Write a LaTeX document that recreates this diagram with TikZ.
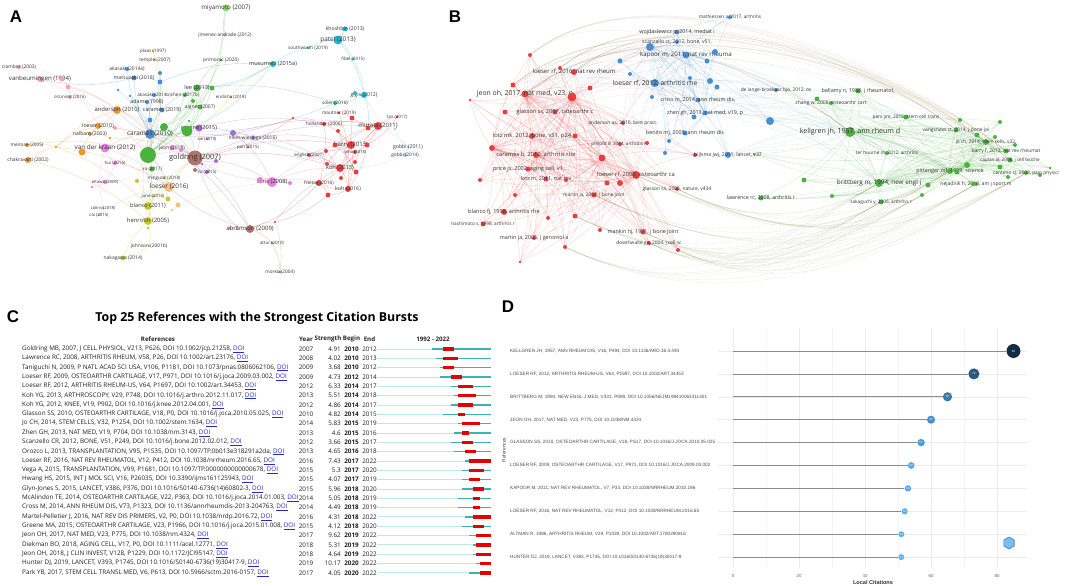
\documentclass[tikz,border=0pt]{standalone}
\usepackage{fontspec}
\setmainfont{Open Sans}
\newfontfamily\panelfont{Liberation Sans}
\newfontfamily\ggfont{Liberation Sans}
\usetikzlibrary{positioning}
\pgfdeclarelayer{bg}
\pgfdeclarelayer{paper}
\pgfsetlayers{paper,bg,main}

\definecolor{cRed}{RGB}{232,62,62}
\definecolor{cGreen}{RGB}{72,180,60}
\definecolor{cBlue}{RGB}{72,142,212}
\definecolor{cYel}{RGB}{200,200,45}
\definecolor{cPur}{RGB}{165,105,222}
\definecolor{cCyan}{RGB}{35,185,212}
\definecolor{cOra}{RGB}{240,148,45}
\definecolor{cBrn}{RGB}{175,115,105}
\definecolor{cPink}{RGB}{232,125,222}
\definecolor{cLPink}{RGB}{242,165,175}
\definecolor{cLBlue}{RGB}{170,202,242}
\definecolor{cLGreen}{RGB}{140,218,110}
\definecolor{cLOra}{RGB}{246,190,130}
\definecolor{cLPur}{RGB}{200,170,235}
\definecolor{cTeal}{RGB}{60,178,178}
\definecolor{cThin}{RGB}{190,232,232}
\definecolor{cBurst}{RGB}{232,0,0}
\definecolor{cLink}{RGB}{40,40,195}
\definecolor{dDark}{HTML}{132B43}
\definecolor{dLight}{HTML}{56B1F7}
\definecolor{cHex}{RGB}{120,190,240}
\definecolor{cHexD}{RGB}{60,130,200}

\newcommand\doilnk{\textcolor{cLink}{\underline{DOI}}}
\newcommand\vlfont[1]{\pgfmathsetmacro\vlsz{1.08*#1}\fontsize{\vlsz}{\vlsz}\selectfont}

\begin{document}
\begin{tikzpicture}[x=1bp, y=-1bp,
  vn/.style={circle, inner sep=0pt, minimum size=#1, draw=none},
  vl/.style={font=\vlfont{#1}, text=black!80, inner sep=0pt},
  ln/.style={draw=#1, draw opacity=.4, line width=.35pt},
  lnb/.style={draw=#1, draw opacity=.26, line width=.3pt},
  lnx/.style={draw=#1, draw opacity=.16, line width=.3pt},
  pnl/.style={font=\panelfont\bfseries\fontsize{17}{17}\selectfont, inner sep=0pt},
  rf/.style={font=\fontsize{6.35}{7}\selectfont, inner sep=0pt, text=black!88},
  hd/.style={font=\bfseries\fontsize{6.2}{7}\selectfont, inner sep=0pt, text=black!85},
  dl/.style={font=\ggfont\fontsize{4.7}{4.7}\selectfont, inner sep=0pt, text=black!70},
  tk/.style={font=\ggfont\fontsize{4.4}{4.4}\selectfont, inner sep=0pt, text=black!60},
  grd/.style={draw=black!8, line width=.5pt},
  stem/.style={draw=black!45, line width=.8pt},
]
\useasboundingbox (0,0) rectangle (1079,586);
\begin{pgfonlayer}{paper}
\fill[white] (0,0) rectangle (1079,586);
\end{pgfonlayer}

% ---------------- panel letters
\node[pnl] (pA) at (16,17) {A};
\node[pnl] (pB) at (455,17) {B};
\node[pnl] (pC) at (13,317) {C};
\node[pnl] (pD) at (508,307) {D};

% ---------------- A: co-citation network (first authors)
\node[vn=7, fill=cLGreen, label={[vl=5.8]center:{miyamoto (2007)}}] (aMiya) at (226,8) {};
\node[vn=3, fill=cLGreen, label={[vl=4.5]center:{jimenez-andrade (2012)}}] (aJime) at (225,35) {};
\node[vn=3, fill=cYel, label={[vl=4.3]center:{plaas (1997)}}] (aPlaas) at (153,51) {};
\node[vn=3, fill=cYel, label={[vl=4.5]center:{temple (2007)}}] (aTemp) at (155,60) {};
\node[vn=3, fill=cGreen, label={[vl=4.5]center:{primorac (2020)}}] (aPrim) at (221,60) {};
\node[vn=6, fill=cCyan, label={[vl=5.2]center:{musumeci (2015a)}}] (aMusu) at (273,64) {};
\node[vn=5, fill=cCyan, label={[vl=4.8]center:{khoshbin (2013)}}] (aKhos) at (345,29) {};
\node[vn=9, fill=cCyan, label={[vl=6]center:{patel (2013)}}] (aPatel) at (338,40) {};
\node[vn=3, fill=cCyan, label={[vl=4.3]center:{southworth (2019)}}] (aSouth) at (308,48) {};
\node[vn=3, fill=cCyan, label={[vl=4.2]center:{fibel (2015)}}] (aFibel) at (353,59) {};
\node[vn=4, fill=cLPink, label={[vl=4.5]center:{ciombor (2003)}}] (aCiom) at (19,67) {};
\node[vn=6, fill=cLPink, label={[vl=5.7]center:{vanbeumingen (1994)}}] (aVanb) at (40,79) {};
\node[vn=4, fill=cBlue, label={[vl=4.6]center:{akasaki (2014a)}}] (aAka1) at (127,69) {};
\node[vn=5, fill=cBlue, label={[vl=4.8]center:{matsuzaki (2018)}}] (aMats) at (134,78) {};
\node[vn=4, fill=cLPink, label={[vl=4.1]center:{o'connor (2016)}}] (aOcon) at (70,97) {};
\node[vn=7, fill=cGreen, label={[vl=5.2]center:{lee (2013)}}] (aLee) at (197,88) {};
\node[vn=4, fill=cBlue, label={[vl=4.3]center:{akasaki (2014b)}}] (aAka2) at (154,95) {};
\node[vn=4, fill=cGreen, label={[vl=4.4]center:{chen (2017b)}}] (aChen) at (185,95) {};
\node[vn=3, fill=cYel, label={[vl=4.1]center:{endisha (2018)}}] (aEndi) at (231,97) {};
\node[vn=4, fill=cBlue, label={[vl=4.9]center:{adams (1998)}}] (aAdams) at (147,102) {};
\node[vn=5, fill=cGreen, label={[vl=4.6]center:{aigner (2007)}}] (aAign) at (200,107) {};
\node[vn=8, fill=cOra, label={[vl=5.5]center:{anderson (2010)}}] (aAnd) at (117,110) {};
\node[vn=5, fill=cBlue, label={[vl=5]center:{caramés (2019)}}] (aCar19) at (162,110) {};
\node[vn=6, fill=cOra, label={[vl=4.9]center:{loeser (2010)}}] (aLoe10) at (98,126) {};
\node[vn=7, fill=cPur, label={[vl=5.3]center:{greene (2015)}}] (aGree) at (199,128) {};
\node[vn=10, fill=cBlue, label={[vl=6]center:{caramés (2010)}}] (aCar10) at (150,134) {};
\node[vn=4, fill=cOra, label={[vl=4.7]center:{nalbant (2003)}}] (aNalb) at (90,134) {};
\node[vn=4, fill=cOra, label={[vl=4.4]center:{melrose (2005)}}] (aMelr) at (27,145) {};
\node[vn=9, fill=cPink, label={[vl=5.9]center:{van der kraan (2012)}}] (aVdk) at (105,148) {};
\node[vn=5, fill=cPink, label={[vl=4.6]center:{jeon (2018)}}] (aJeon) at (172,148) {};
\node[vn=15, fill=cBrn, label={[vl=6.9]center:{goldring (2007)}}] (aGold) at (195,158) {};
\node[vn=6, fill=cOra, label={[vl=4.6]center:{chakravarti (2002)}}] (aChak) at (28,160) {};
\node[vn=4, fill=cPink, label={[vl=4.2]center:{hui (2016)}}] (aHui) at (115,163) {};
\node[vn=5, fill=cGreen, label={[vl=4.3]center:{xu (2017)}}] (aXu) at (152,169) {};
\node[vn=4, fill=cPur, label={[vl=4.1]center:{liu (2015)}}] (aLiu) at (207,172) {};
\node[vn=3, fill=cYel, label={[vl=4.2]center:{minguzzi (2018)}}] (aMing) at (164,178) {};
\node[vn=4, fill=cPink, label={[vl=4]center:{eltawil (2009)}}] (aElta) at (105,182) {};
\node[vn=10, fill=cPink, label={[vl=5.4]center:{saris (2008)}}] (aSaris) at (272,182) {};
\node[vn=10, fill=cLOra, label={[vl=6]center:{loeser (2016)}}] (aLoe16) at (169,187) {};
\node[vn=3, fill=cYel, label={[vl=4.1]center:{june (2016)}}] (aJune) at (153,196) {};
\node[vn=8, fill=cYel, label={[vl=5.3]center:{blanco (2011)}}] (aBlan) at (148,206) {};
\node[vn=3, fill=cLPur, label={[vl=3.9]center:{colins (2018)}}] (aColi) at (103,208) {};
\node[vn=3, fill=cLPur, label={[vl=4]center:{cai (2015)}}] (aCai) at (99,215) {};
\node[vn=8, fill=cYel, label={[vl=5.5]center:{henrotin (2005)}}] (aHenr) at (148,221) {};
\node[vn=8, fill=cBrn, label={[vl=5.6]center:{abramson (2009)}}] (aAbra) at (250,229) {};
\node[vn=3, fill=cYel, label={[vl=4.5]center:{johnson (2001b)}}] (aJohn) at (149,246) {};
\node[vn=3, fill=cBrn, label={[vl=4.1]center:{attur (2010)}}] (aAttur) at (272,243) {};
\node[vn=5, fill=cYel, label={[vl=4.6]center:{nakagawa (2014)}}] (aNaka) at (123,258) {};
\node[vn=3, fill=cBrn, label={[vl=4.4]center:{morko (2004)}}] (aMork) at (280,272) {};
\node[vn=4, fill=cRed, label={[vl=4.4]center:{hollander (2006)}}] (aHoll) at (324,124) {};
\node[vn=4, fill=cCyan, label={[vl=4.4]center:{soler (2016)}}] (aSoler) at (335,103) {};
\node[vn=6, fill=cCyan, label={[vl=4.8]center:{gigis (2012)}}] (aGigis) at (364,95) {};
\node[vn=3, fill=cRed, label={[vl=4.4]center:{mautner (2019)}}] (aMaut) at (339,113) {};
\node[vn=3, fill=cRed, label={[vl=4.1]center:{tan (2017)}}] (aTan) at (397,117) {};
\node[vn=8, fill=cRed, label={[vl=5.6]center:{murata (2011)}}] (aMura) at (378,126) {};
\node[vn=8, fill=cRed, label={[vl=5.6]center:{barry (2013)}}] (aBarry) at (351,145) {};
\node[vn=3, fill=cLBlue, label={[vl=4.8]center:{gobbi (2011)}}] (aGob11) at (408,147) {};
\node[vn=4, fill=cLBlue, label={[vl=4.4]center:{gobbi (2014)}}] (aGob14) at (405,155) {};
\node[vn=4, fill=cRed, label={[vl=3.9]center:{ijima (2018)}}] (aIjim) at (355,152) {};
\node[vn=4, fill=cRed, label={[vl=4.2]center:{english (2007)}}] (aEngl) at (309,155) {};
\node[vn=8, fill=cRed, label={[vl=5.3]center:{koh (2013)}}] (aKoh13) at (340,168) {};
\node[vn=6, fill=cRed, label={[vl=4.5]center:{freitag (2016)}}] (aFrei) at (319,183) {};
\node[vn=6, fill=cRed, label={[vl=4.9]center:{koh (2016)}}] (aKoh16) at (348,189) {};
\node[vn=4, fill=cPur, label={[vl=4.6]center:{klein-wieringa (2016)}}] (aKlein) at (253,138) {};
\node[vn=3, fill=cPur, label={[vl=4.1]center:{pan (2015)}}] (aPan) at (248,147) {};
\node[vn=3, fill=cPur, label={[vl=3.9]center:{xie (2019)}}] (aXie) at (207,139) {};
% unlabeled items of A
\node[vn=16, fill=cGreen] (aG1) at (148,155) {};
\node[vn=11, fill=cGreen] (aG2) at (187,131) {};
\node[vn=8, fill=cGreen] (aG3) at (164,127) {};
\node[vn=5, fill=cGreen] (aG4) at (212,88) {};
\node[vn=4, fill=cGreen] (aG5) at (193,101) {};
\node[vn=3, fill=cGreen] (aG6) at (189,121) {};
\node[vn=4, fill=cBlue] (aB1) at (160,73) {};
\node[vn=5, fill=cBlue] (aB2) at (160,82) {};
\node[vn=3, fill=cBlue] (aB3) at (118,90) {};
\node[vn=5, fill=cBlue] (aB4) at (150,120) {};
\node[vn=3, fill=cBlue] (aB5) at (130,96) {};
\node[vn=6, fill=cPur] (aP1) at (233,133) {};
\node[vn=4, fill=cPur] (aP2) at (216,161) {};
\node[vn=3, fill=cPur] (aP3) at (202,164) {};
\node[vn=5, fill=cLPink] (aLP1) at (62,79) {};
\node[vn=5, fill=cLPink] (aLP2) at (68,87) {};
\node[vn=4, fill=cLPink] (aLP3) at (115,128) {};
\node[vn=7, fill=cOra] (aO1) at (82,152) {};
\node[vn=3, fill=cOra] (aO2) at (56,147) {};
\node[vn=3, fill=cOra] (aO3) at (110,138) {};
\node[vn=5, fill=cLOra] (aLO1) at (178,205) {};
\node[vn=3, fill=cLOra] (aLO2) at (172,210) {};
\node[vn=4, fill=cYel] (aY1) at (137,181) {};
\node[vn=5, fill=cYel] (aY2) at (168,199) {};
\node[vn=3, fill=cYel] (aY3) at (148,228) {};
\node[vn=3, fill=cPink] (aPk1) at (92,187) {};
\node[vn=4, fill=cPink] (aPk2) at (290,183) {};
\node[vn=6, fill=cPink] (aPk3) at (260,180) {};
\node[vn=4, fill=cPink] (aPk4) at (181,150) {};
\node[vn=3, fill=cBrn] (aBr1) at (275,222) {};
\node[vn=3, fill=cBrn] (aBr2) at (230,228) {};
\node[vn=3, fill=cBrn] (aBr3) at (237,227) {};
\node[vn=4, fill=cBrn] (aBr4) at (195,170) {};
\node[vn=3, fill=cRed] (aR1) at (293,118) {};
\node[vn=5, fill=cRed] (aR2) at (352,118) {};
\node[vn=5, fill=cRed] (aR3) at (368,128) {};
\node[vn=4, fill=cRed] (aR4) at (338,131) {};
\node[vn=5, fill=cRed] (aR5) at (367,145) {};
\node[vn=4, fill=cRed] (aR6) at (326,151) {};
\node[vn=4, fill=cRed] (aR7) at (355,162) {};
\node[vn=4, fill=cRed] (aR8) at (327,164) {};
\node[vn=5, fill=cRed] (aR9) at (356,172) {};
\node[vn=5, fill=cRed] (aR10) at (328,195) {};
\node[vn=4, fill=cRed] (aR11) at (341,178) {};
\node[vn=5, fill=cRed] (aR12) at (335,145) {};
\node[vn=3, fill=cLBlue] (aLB1) at (395,129) {};
\node[vn=4, fill=cCyan] (aC1) at (355,93) {};

\begin{pgfonlayer}{bg}
\foreach \a/\b in {aLee/aG1, aLee/aG2, aLee/aG3, aLee/aAign, aLee/aChen, aLee/aPrim, aPrim/aJime, aJime/aMiya, aMiya/aG2,
  aG1/aG2, aG1/aG3, aG1/aGold, aG2/aGold, aG1/aXu, aAign/aG2, aChen/aG1, aG4/aG2, aG5/aG1, aG1/aCar10, aG2/aCar10,
  aPrim/aG1, aLee/aSoler, aG1/aLoe16, aG1/aBlan, aG6/aG1, aG4/aG3, aG3/aGold}
  \draw[ln=cGreen] (\a) to[bend left=12] (\b);
\foreach \a/\b in {aCar10/aMats, aCar10/aAka1, aCar10/aAka2, aCar10/aAdams, aCar10/aCar19, aCar19/aB1, aMats/aB2, aB1/aG1,
  aAdams/aG1, aCar10/aGold, aCar10/aAnd, aCar19/aLee, aB3/aCar10, aMats/aVanb, aCar10/aKoh13, aB2/aMusu, aCar10/aAbra,
  aB4/aG1, aB5/aCar10, aB4/aAka2, aB2/aCar10}
  \draw[ln=cBlue] (\a) to[bend left=12] (\b);
\foreach \a/\b in {aMelr/aO2, aChak/aO2, aO2/aLoe10, aO2/aAnd, aLoe10/aNalb, aNalb/aO3, aAnd/aLoe10, aO1/aVdk, aO1/aLoe10,
  aAnd/aGold, aLoe10/aGold, aO2/aLoe16, aChak/aHenr, aMelr/aG1, aAnd/aCar10, aO3/aGold, aO2/aBlan}
  \draw[ln=cOra] (\a) to[bend left=12] (\b);
\foreach \a/\b in {aVanb/aLP1, aLP1/aLP2, aLP2/aOcon, aLP2/aAnd, aCiom/aLP1, aLP2/aLoe10, aVanb/aAnd, aLP2/aCar10,
  aLP3/aGold, aVanb/aG1, aCiom/aVanb}
  \draw[ln=cLPink] (\a) to[bend left=12] (\b);
\foreach \a/\b in {aMusu/aSouth, aSouth/aPatel, aKhos/aPatel, aPatel/aFibel, aFibel/aGigis, aGigis/aSoler, aGigis/aC1,
  aMusu/aLee, aMusu/aG2, aGigis/aR3, aPatel/aGigis, aMusu/aG4, aSoler/aG2}
  \draw[ln=cCyan] (\a) to[bend left=12] (\b);
\foreach \a/\b in {aGob11/aGob14, aGob11/aLB1, aLB1/aR3, aGob14/aKoh13, aGob11/aGigis}
  \draw[ln=cLBlue] (\a) to[bend left=12] (\b);
\foreach \a/\b in {aMura/aBarry, aMura/aKoh13, aMura/aR2, aMura/aR3, aMura/aR5, aMura/aTan, aMaut/aR2, aBarry/aKoh13,
  aBarry/aR4, aBarry/aR6, aBarry/aKoh16, aKoh13/aKoh16, aKoh13/aFrei, aKoh13/aR9, aKoh13/aR8, aKoh16/aFrei, aKoh16/aR10,
  aFrei/aR10, aEngl/aBarry, aEngl/aKoh13, aHoll/aMura, aHoll/aBarry, aR1/aHoll, aR1/aGold, aR11/aR7, aIjim/aKoh13,
  aR12/aMura, aR5/aKoh16, aGold/aKoh13, aGold/aBarry, aFrei/aAbra, aR10/aBr1, aMaut/aKoh16, aR4/aKoh16, aR12/aR9,
  aR6/aR11, aR7/aMura, aR2/aKoh13, aTan/aR5, aHoll/aFrei, aR1/aCar10, aR8/aR3}
  \draw[ln=cRed] (\a) to[bend left=12] (\b);
\foreach \a/\b in {aGree/aP1, aP1/aKlein, aP1/aPan, aXie/aP1, aGree/aGold, aLiu/aGold, aP2/aGold, aP1/aMura, aKlein/aBarry,
  aGree/aHoll, aP1/aSaris, aLiu/aP2, aGree/aG2, aP3/aGold, aP1/aKoh13}
  \draw[ln=cPur] (\a) to[bend left=12] (\b);
\foreach \a/\b in {aVdk/aGold, aVdk/aCar10, aJeon/aGold, aHui/aVdk, aElta/aPk1, aElta/aLoe16, aPk4/aGold, aSaris/aPk3,
  aPk3/aGold, aSaris/aPk2, aVdk/aLoe16, aHui/aLoe16, aElta/aCar10, aSaris/aKoh13, aSaris/aFrei, aSaris/aBarry}
  \draw[ln=cPink] (\a) to[bend left=12] (\b);
\foreach \a/\b in {aBlan/aHenr, aBlan/aJune, aBlan/aLoe16, aHenr/aJohn, aJohn/aNaka, aHenr/aY3, aY1/aBlan, aY1/aG1,
  aY2/aLoe16, aHenr/aGold, aBlan/aGold, aNaka/aHenr, aTemp/aG1, aPlaas/aTemp, aPlaas/aCar19, aEndi/aG2, aMing/aBlan,
  aHenr/aCar10, aJune/aG1, aEndi/aMusu}
  \draw[ln=cYel] (\a) to[bend left=12] (\b);
\foreach \a/\b in {aColi/aCai, aColi/aVdk, aCai/aLoe16}
  \draw[ln=cLPur] (\a) to[bend left=12] (\b);
\foreach \a/\b in {aGold/aAbra, aAbra/aBr2, aBr2/aBr3, aAbra/aBr1, aBr1/aMork, aAttur/aMork, aAbra/aAttur, aGold/aBr4,
  aBr1/aKoh13, aAbra/aLoe16, aGold/aSaris, aBr4/aLiu, aGold/aMura, aBr3/aGold}
  \draw[ln=cBrn] (\a) to[bend left=12] (\b);
\foreach \a/\b in {aLoe16/aLO1, aLO1/aLO2, aLoe16/aGold, aLoe16/aCar10, aLO1/aFrei, aLO2/aHenr}
  \draw[ln=cLOra] (\a) to[bend left=12] (\b);
\end{pgfonlayer}

% ---------------- B: co-citation network (references)
\node[vn=6, fill=cRed, label={[vl=5.6]center:{loeser rf, 2016, nat rev rheum}}] (bLoe16) at (574,72) {};
\node[vn=7, fill=cRed, label={[vl=6.4]center:{jeon oh, 2017, nat med, v23, p}}] (bJeon) at (525,94) {};
\node[vn=5, fill=cRed, label={[vl=5.2]center:{glasson ss, 2007, osteoarthr c}}] (bGla07) at (555,112) {};
\node[vn=4, fill=cRed, label={[vl=4.6]center:{anderson as, 2010, best pract.}}] (bAnd) at (623,123) {};
\node[vn=6, fill=cRed, label={[vl=5.4]center:{lotz mk, 2012, bone, v51, p24}}] (bLotz12) at (532,136) {};
\node[vn=4, fill=cRed, label={[vl=4.3]center:{philpot d, 2014, arthritis re}}] (bPhil) at (620,144) {};
\node[vn=6, fill=cRed, label={[vl=5.4]center:{caramés b, 2010, arthritis rhe}}] (bCar) at (536,155) {};
\node[vn=5, fill=cRed, label={[vl=5.2]center:{price js, 2002, aging cell, v1}}] (bPrice) at (528,169) {};
\node[vn=5, fill=cRed, label={[vl=5]center:{lotz m, 2011, nat rev}}] (bLotz11) at (546,179) {};
\node[vn=8, fill=cRed, label={[vl=5.4]center:{loeser rf, 2009, osteoarthr ca}}] (bLoe09) at (636,175) {};
\node[vn=4, fill=cRed, label={[vl=4.6]center:{glasson ss, 2005, nature, v434}}] (bGla05) at (677,189) {};
\node[vn=5, fill=cRed, label={[vl=4.5]center:{martin ja, 2003, j bone joint}}] (bMar03) at (594,195) {};
\node[vn=6, fill=cRed, label={[vl=5.2]center:{blanco fj, 1998, arthritis rhe}}] (bBlan) at (504,212) {};
\node[vn=5, fill=cRed, label={[vl=4.4]center:{hashimoto s, 1998, arthritis r}}] (bHash) at (483,224) {};
\node[vn=4, fill=cRed, label={[vl=5]center:{martin ja, 2005, j gerontol a}}] (bMar05) at (534,238) {};
\node[vn=5, fill=cRed, label={[vl=5]center:{mankin hj, 1971, j bone joint}}] (bMank) at (643,232) {};
\node[vn=4, fill=cRed, label={[vl=4.5]center:{dowthwaite gp, 2004, j cell sc}}] (bDow) at (649,243) {};
\node[vn=9, fill=cRed] (bR1) at (572,97) {};
\node[vn=5, fill=cRed] (bR2) at (505,112) {};
\node[vn=6, fill=cRed] (bR3) at (492,148) {};
\node[vn=5, fill=cRed] (bR4) at (513,85) {};
\node[vn=4, fill=cRed] (bR5) at (560,68) {};
\node[vn=5, fill=cRed] (bR6) at (590,88) {};
\node[vn=7, fill=cRed] (bR7) at (602,158) {};
\node[vn=5, fill=cRed] (bR8) at (607,183) {};
\node[vn=6, fill=cRed] (bR9) at (620,183) {};
\node[vn=5, fill=cRed] (bR10) at (575,136) {};
\node[vn=4, fill=cRed] (bR11) at (566,180) {};
\node[vn=4, fill=cRed] (bR12) at (565,247) {};
\node[vn=4, fill=cRed] (bR13) at (515,195) {};
\node[vn=5, fill=cRed] (bR14) at (575,216) {};
\node[vn=4, fill=cRed] (bR15) at (548,218) {};
\node[vn=4, fill=cRed] (bR16) at (678,250) {};
\node[vn=4, fill=cRed] (bR17) at (695,155) {};
\node[vn=4, fill=cRed] (bR18) at (647,143) {};
\node[vn=4, fill=cRed] (bR19) at (480,180) {};
\node[vn=4, fill=cRed] (bR20) at (530,55) {};
\node[vn=3, fill=cRed] (bR21) at (470,100) {};
\node[vn=4, fill=cRed] (bR22) at (600,230) {};
\node[vn=3, fill=cRed] (bR23) at (520,262) {};

\node[vn=4, fill=cBlue, label={[vl=4.4]center:{mathiessen a, 2017, arthritis}}] (bMath) at (730,17) {};
\node[vn=5, fill=cBlue, label={[vl=5]center:{wojdaslewicz p, 2014, mediat i}}] (bWojd) at (677,32) {};
\node[vn=4, fill=cBlue, label={[vl=4.8]center:{scanzello cr, 2012, bone, v51,}}] (bScan) at (677,42) {};
\node[vn=7, fill=cBlue, label={[vl=5.7]center:{kapoor m, 2011, nat rev rheuma}}] (bKap) at (686,55) {};
\node[vn=8, fill=cBlue, label={[vl=6.2]center:{loeser rf, 2012, arthritis rhe}}] (bLoe12) at (655,83) {};
\node[vn=5, fill=cBlue, label={[vl=5]center:{cross m, 2014, ann rheum dis,}}] (bCross) at (698,100) {};
\node[vn=5, fill=cBlue, label={[vl=5]center:{zhen gh, 2013, nat med, v19, p}}] (bZhen) at (705,113) {};
\node[vn=5, fill=cBlue, label={[vl=5]center:{benito mj, 2005, ann rheum dis}}] (bBeni) at (685,133) {};
\node[vn=6, fill=cBlue, label={[vl=4.8]center:{bijlsma jwj, 2011, lancet, v37}}] (bBijl) at (728,155) {};
\node[vn=4, fill=cBlue, label={[vl=4.5]center:{de lange-broekaar bje, 2012, os}}] (bDeL) at (776,90) {};
\node[vn=8, fill=cBlue] (bB1) at (650,47) {};
\node[vn=6, fill=cBlue] (bB2) at (715,52) {};
\node[vn=5, fill=cBlue] (bB3) at (707,61) {};
\node[vn=5, fill=cBlue] (bB4) at (620,61) {};
\node[vn=4, fill=cBlue] (bB5) at (630,74) {};
\node[vn=6, fill=cBlue] (bB6) at (710,81) {};
\node[vn=5, fill=cBlue] (bB7) at (717,87) {};
\node[vn=4, fill=cBlue] (bB8) at (652,97) {};
\node[vn=4, fill=cBlue] (bB9) at (690,78) {};
\node[vn=8, fill=cBlue] (bB10) at (770,121) {};
\node[vn=4, fill=cBlue] (bB11) at (669,141) {};
\node[vn=4, fill=cBlue] (bB12) at (665,153) {};
\node[vn=5, fill=cBlue] (bB13) at (694,117) {};

\node[vn=5, fill=cGreen, label={[vl=5]center:{bellamy n, 1988, j rheumatol,}}] (bBell) at (858,91) {};
\node[vn=4, fill=cGreen, label={[vl=4.7]center:{zhang w, 2008, osteoarthr cart}}] (bZhang) at (831,103) {};
\node[vn=5, fill=cGreen, label={[vl=4.5]center:{pers ym, 2016, stem cell trans}}] (bPers) at (906,117) {};
\node[vn=10, fill=cGreen, label={[vl=6.6]center:{kellgren jh, 1957, ann rheum d}}] (bKell) at (850,132) {};
\node[vn=5, fill=cGreen, label={[vl=4.6]center:{vangsness ct, 2014, j bone joi}}] (bVang) at (956,130) {};
\node[vn=6, fill=cGreen, label={[vl=4.5]center:{jo ch, 2014, stem cells, v32,}}] (bJo) at (986,142) {};
\node[vn=5, fill=cGreen, label={[vl=4.6]center:{barry f, 2013, nat rev rheumat}}] (bBarry) at (1006,151) {};
\node[vn=4, fill=cGreen, label={[vl=4.4]center:{ter huurne m, 2012, arthritis}}] (bTer) at (887,153) {};
\node[vn=5, fill=cGreen, label={[vl=4.3]center:{caplan al, 2006, j cell bioche}}] (bCapl) at (1010,160) {};
\node[vn=6, fill=cGreen, label={[vl=5]center:{pittenger mf, 1999, science}}] (bPitt) at (950,171) {};
\node[vn=4, fill=cGreen, label={[vl=4.5]center:{centeno cj, 2008, pain physici}}] (bCent) at (1026,173) {};
\node[vn=8, fill=cGreen, label={[vl=5.9]center:{brittberg m, 1994, new engl j}}] (bBritt) at (879,183) {};
\node[vn=4, fill=cGreen, label={[vl=4.7]center:{nejadnik h, 2010, am j sport m}}] (bNeja) at (976,184) {};
\node[vn=5, fill=cGreen, label={[vl=4.4]center:{sakaguchi y, 2005, arthritis r}}] (bSaka) at (881,202) {};
\node[vn=5, fill=cGreen, label={[vl=4.9]center:{lawrence rc, 2008, arthritis r}}] (bLaw) at (761,198) {};
\node[vn=4, fill=cGreen] (bG1) at (960,120) {};
\node[vn=4, fill=cGreen] (bG2) at (1000,122) {};
\node[vn=5, fill=cGreen] (bG3) at (977,135) {};
\node[vn=4, fill=cGreen] (bG4) at (995,137) {};
\node[vn=4, fill=cGreen] (bG5) at (1015,145) {};
\node[vn=6, fill=cGreen] (bG6) at (967,165) {};
\node[vn=5, fill=cGreen] (bG7) at (1000,167) {};
\node[vn=4, fill=cGreen] (bG8) at (1008,177) {};
\node[vn=4, fill=cGreen] (bG9) at (1040,175) {};
\node[vn=5, fill=cGreen] (bG10) at (928,185) {};
\node[vn=4, fill=cGreen] (bG11) at (922,195) {};
\node[vn=4, fill=cGreen] (bG12) at (832,196) {};
\node[vn=5, fill=cGreen] (bG13) at (804,180) {};
\node[vn=5, fill=cGreen] (bG14) at (817,99) {};
\node[vn=3, fill=cGreen] (bG15) at (754,154) {};
\node[vn=5, fill=cGreen] (bG16) at (957,172) {};
\node[vn=4, fill=cGreen] (bG17) at (973,184) {};
\node[vn=3, fill=cGreen] (bG18) at (1050,168) {};

\begin{pgfonlayer}{bg}
\foreach \a in {bR1, bJeon, bLoe09, bR7, bCar, bR3}
  \foreach \b in {bLoe16, bGla07, bAnd, bLotz12, bPhil, bPrice, bLotz11, bGla05, bMar03, bBlan, bHash, bMar05, bMank, bDow,
    bR2, bR4, bR5, bR6, bR8, bR9, bR10, bR11, bR12, bR13, bR14, bR15, bR16, bR17, bR18, bR19, bR20, bR21, bR22, bR23}
    \draw[lnb=cRed] (\a) to[bend left=10] (\b);
\foreach \a/\b in {bR1/bJeon, bR1/bLoe09, bR1/bR7, bR1/bCar, bR1/bR3, bJeon/bLoe09, bJeon/bR7, bJeon/bCar, bJeon/bR3,
  bLoe09/bR7, bLoe09/bCar, bLoe09/bR3, bR7/bCar, bR7/bR3, bCar/bR3}
  \draw[lnb=cRed] (\a) to[bend left=10] (\b);
\foreach \a in {bLoe12, bKap, bB1, bZhen}
  \foreach \b in {bMath, bWojd, bScan, bCross, bBeni, bBijl, bDeL, bB2, bB3, bB4, bB5, bB6, bB7, bB8, bB9, bB10, bB11,
    bB12, bB13}
    \draw[lnb=cBlue] (\a) to[bend left=10] (\b);
\foreach \a/\b in {bLoe12/bKap, bLoe12/bB1, bLoe12/bZhen, bKap/bB1, bKap/bZhen, bB1/bZhen}
  \draw[lnb=cBlue] (\a) to[bend left=10] (\b);
\foreach \a in {bKell, bBritt, bPitt, bJo, bG6}
  \foreach \b in {bBell, bZhang, bPers, bVang, bBarry, bTer, bCapl, bCent, bNeja, bSaka, bLaw, bG1, bG2, bG3, bG4, bG5,
    bG7, bG8, bG9, bG10, bG11, bG12, bG13, bG14, bG15, bG16, bG17, bG18}
    \draw[lnb=cGreen] (\a) to[bend left=10] (\b);
\foreach \a/\b in {bKell/bBritt, bKell/bPitt, bKell/bJo, bBritt/bPitt, bBritt/bJo, bPitt/bJo, bG6/bKell, bG6/bBritt,
  bG6/bJo, bG6/bPitt}
  \draw[lnb=cGreen] (\a) to[bend left=10] (\b);
\foreach \a in {bR1, bJeon, bLoe16, bR6, bAnd, bLoe09, bR4, bGla07}
  \foreach \b in {bLoe12, bKap, bB1, bScan, bCross}
    \draw[lnx=cRed!50!cBlue] (\a) to[bend left=15] (\b);
\foreach \a in {bLoe12, bKap, bB10, bBijl, bZhen, bCross}
  \foreach \b in {bKell, bBritt, bPitt, bJo, bPers, bTer}
    \draw[lnx=cBlue!50!cGreen] (\a) to[bend left=12] (\b);
\foreach \a in {bLoe09, bMank, bDow, bR16, bGla05, bR12, bMar03, bR14}
  \foreach \b in {bBritt, bPitt, bSaka, bNeja, bG11, bCent}
    \draw[lnx=cGreen!65!cRed] (\a) to[out=-25, in=-150] (\b);
\foreach \a in {bLoe16, bR20, bR5, bJeon, bR4}
  \foreach \b in {bKell, bVang, bBarry, bJo, bCapl}
    \draw[lnx=cGreen!55!cRed] (\a) to[out=38, in=142, looseness=.8] (\b);
\end{pgfonlayer}

% ---------------- C: citation bursts
\node[font=\bfseries\fontsize{12.4}{13}\selectfont, inner sep=0pt] (cTitle) at (257,318)
  {Top 25 References with the Strongest Citation Bursts};
\node[hd] (cHRef) at (158,339) {References};
\node[hd] (cHYear) at (306,339) {Year};
\node[hd] (cHStr) at (328,339) {Strength};
\node[hd] (cHBeg) at (351.5,339) {Begin};
\node[hd] (cHEnd) at (369.5,339) {End};
\node[hd] (cHSpan) at (433,339) {1992 - 2022};
\foreach \txt/\yr/\sv/\yb/\ye [count=\i] in {
  {Goldring MB, 2007, J CELL PHYSIOL, V213, P626, DOI 10.1002/jcp.21258}/2007/4.91/2010/2012,
  {Lawrence RC, 2008, ARTHRITIS RHEUM, V58, P26, DOI 10.1002/art.23176}/2008/4.02/2010/2013,
  {Taniguchi N, 2009, P NATL ACAD SCI USA, V106, P1181, DOI 10.1073/pnas.0806062106}/2009/3.68/2010/2012,
  {Loeser RF, 2009, OSTEOARTHR CARTILAGE, V17, P971, DOI 10.1016/j.joca.2009.03.002}/2009/4.73/2012/2014,
  {Loeser RF, 2012, ARTHRITIS RHEUM-US, V64, P1697, DOI 10.1002/art.34453}/2012/6.33/2014/2017,
  {Koh YG, 2013, ARTHROSCOPY, V29, P748, DOI 10.1016/j.arthro.2012.11.017}/2013/5.51/2014/2018,
  {Koh YG, 2012, KNEE, V19, P902, DOI 10.1016/j.knee.2012.04.001}/2012/4.86/2014/2017,
  {Glasson SS, 2010, OSTEOARTHR CARTILAGE, V18, P0, DOI 10.1016/j.joca.2010.05.025}/2010/4.82/2014/2015,
  {Jo CH, 2014, STEM CELLS, V32, P1254, DOI 10.1002/stem.1634}/2014/5.83/2015/2019,
  {Zhen GH, 2013, NAT MED, V19, P704, DOI 10.1038/nm.3143}/2013/4.6/2015/2016,
  {Scanzello CR, 2012, BONE, V51, P249, DOI 10.1016/j.bone.2012.02.012}/2012/3.66/2015/2017,
  {Orozco L, 2013, TRANSPLANTATION, V95, P1535, DOI 10.1097/TP.0b013e318291a2da}/2013/4.65/2016/2018,
  {Loeser RF, 2016, NAT REV RHEUMATOL, V12, P412, DOI 10.1038/nrrheum.2016.65}/2016/7.43/2017/2022,
  {Vega A, 2015, TRANSPLANTATION, V99, P1681, DOI 10.1097/TP.0000000000000678}/2015/5.3/2017/2020,
  {Hwang HS, 2015, INT J MOL SCI, V16, P26035, DOI 10.3390/ijms161125943}/2015/4.07/2017/2019,
  {Glyn-Jones S, 2015, LANCET, V386, P376, DOI 10.1016/S0140-6736(14)60802-3}/2015/5.96/2018/2020,
  {McAlindon TE, 2014, OSTEOARTHR CARTILAGE, V22, P363, DOI 10.1016/j.joca.2014.01.003}/2014/5.05/2018/2019,
  {Cross M, 2014, ANN RHEUM DIS, V73, P1323, DOI 10.1136/annrheumdis-2013-204763}/2014/4.49/2018/2019,
  {Martel-Pelletier J, 2016, NAT REV DIS PRIMERS, V2, P0, DOI 10.1038/nrdp.2016.72}/2016/4.31/2018/2022,
  {Greene MA, 2015, OSTEOARTHR CARTILAGE, V23, P1966, DOI 10.1016/j.joca.2015.01.008}/2015/4.12/2018/2020,
  {Jeon OH, 2017, NAT MED, V23, P775, DOI 10.1038/nm.4324}/2017/9.62/2019/2022,
  {Diekman BO, 2018, AGING CELL, V17, P0, DOI 10.1111/acel.12771}/2018/5.31/2019/2022,
  {Jeon OH, 2018, J CLIN INVEST, V128, P1229, DOI 10.1172/JCI95147}/2018/4.64/2019/2022,
  {Hunter DJ, 2019, LANCET, V393, P1745, DOI 10.1016/S0140-6736(19)30417-9}/2019/10.17/2020/2022,
  {Park YB, 2017, STEM CELL TRANSL MED, V6, P613, DOI 10.5966/sctm.2016-0157}/2017/4.05/2020/2022}
{
  \pgfmathsetmacro\yy{349+(\i-1)*9.33}
  \pgfmathsetmacro\xp{377+(\yr-1992)*3.68}
  \pgfmathsetmacro\xb{377+(\yb-1992)*3.68}
  \pgfmathsetmacro\xe{377+(\ye-1991)*3.68}
  \node[rf, anchor=west] (cRef\i) at (22,\yy) {\txt, \doilnk};
  \node[rf] (cYr\i) at (306,\yy) {\yr};
  \node[rf, anchor=east] (cStr\i) at (341,\yy) {\sv};
  \node[rf, font=\bfseries\fontsize{6.35}{7}\selectfont] (cBeg\i) at (351.5,\yy) {\yb};
  \node[rf] (cEnd\i) at (369.5,\yy) {\ye};
  \draw[cThin, line width=.9pt] (377,\yy) -- (\xp,\yy);
  \draw[cTeal, line width=1.4pt] (\xp,\yy) -- (491,\yy);
  \draw[cBurst, line width=3.3pt] (\xb,\yy) -- (\xe,\yy);
}

% ---------------- D: most local cited references
\foreach \t in {10,30,50,70}
  \draw[draw=black!4, line width=.4pt] (733+\t*3.3,328) -- (733+\t*3.3,568);
\foreach \t in {0,20,40,60,80} {
  \draw[grd] (733+\t*3.3,328) -- (733+\t*3.3,568);
  \node[tk] (dTk\t) at (733+\t*3.3,576) {\t};
}
\node[font=\ggfont\bfseries\fontsize{5.6}{5.6}\selectfont, inner sep=0pt, text=black!80] (dXlab) at (873,583) {Local Citations};
\node[font=\ggfont\fontsize{4.8}{4.8}\selectfont, inner sep=0pt, text=black!75, rotate=90] (dYlab) at (504,450) {References};
\foreach \lab/\v [count=\i] in {
  {KELLGREN JH, 1957, ANN RHEUM DIS, V16, P494, DOI 10.1136/ARD.16.4.494}/85,
  {LOESER RF, 2012, ARTHRITIS RHEUM-US, V64, P1697, DOI 10.1002/ART.34453}/73,
  {BRITTBERG M, 1994, NEW ENGL J MED, V331, P889, DOI 10.1056/NEJM199410063311401}/65,
  {JEON OH, 2017, NAT MED, V23, P775, DOI 10.1038/NM.4324}/60,
  {GLASSON SS, 2010, OSTEOARTHR CARTILAGE, V18, PS17, DOI 10.1016/J.JOCA.2010.05.025}/57,
  {LOESER RF, 2009, OSTEOARTHR CARTILAGE, V17, P971, DOI 10.1016/J.JOCA.2009.03.002}/54,
  {KAPOOR M, 2011, NAT REV RHEUMATOL, V7, P33, DOI 10.1038/NRRHEUM.2010.196}/53,
  {LOESER RF, 2016, NAT REV RHEUMATOL, V12, P412, DOI 10.1038/NRRHEUM.2016.65}/52,
  {ALTMAN R, 1986, ARTHRITIS RHEUM, V29, P1039, DOI 10.1002/ART.1780290816}/51,
  {HUNTER DJ, 2019, LANCET, V393, P1745, DOI 10.1016/S0140-6736(19)30417-9}/51}
{
  \pgfmathsetmacro\yy{351+(\i-1)*22.9}
  \pgfmathsetmacro\xv{733+\v*3.3}
  \pgfmathsetmacro\dd{6+(\v-51)/34*8}
  \pgfmathtruncatemacro\pc{(\v-51)/34*100}
  \draw[grd] (718,\yy) -- (1027,\yy);
  \node[dl, anchor=west] (dLab\i) at (510,\yy) {\lab};
  \coordinate (dZero\i) at (733,\yy);
  \node[circle, inner sep=0pt, minimum size=\dd pt, fill=dDark!\pc!dLight, text=white,
    font=\ggfont\fontsize{3}{3}\selectfont] (dDot\i) at (\xv,\yy) {\v};
  \draw[stem] (dZero\i) -- (dDot\i);
}
\draw[fill=cHex, draw=cHexD, line width=.6pt] (1009,537) -- ++(5.2,3) -- ++(0,6) -- ++(-5.2,3) -- ++(-5.2,-3)
  -- ++(0,-6) -- cycle;
\end{tikzpicture}
\end{document}
